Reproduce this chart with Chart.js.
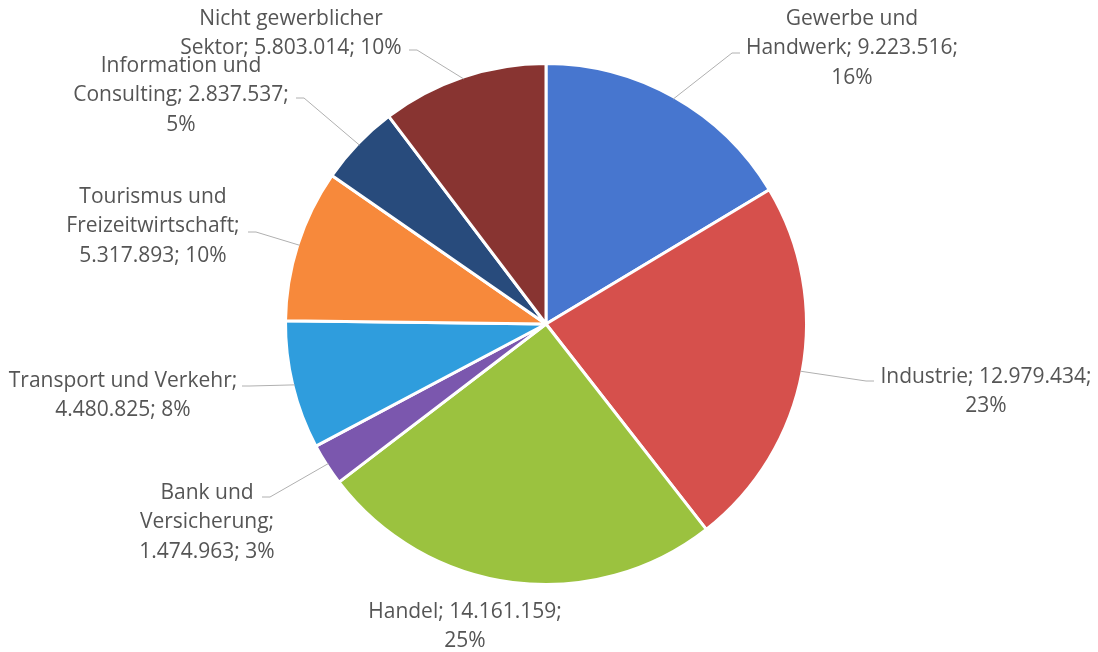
<!DOCTYPE html>
<html>
<head>
<meta charset="utf-8">
<script src="https://cdn.jsdelivr.net/npm/chart.js@4"></script>
<style>
  html, body { margin: 0; padding: 0; background: #fff; }
  #chart { display: block; }
</style>
</head>
<body>
<canvas id="chart" width="1098" height="652"></canvas>
<script>
// data
const categories = [
  'Gewerbe und Handwerk',
  'Industrie',
  'Handel',
  'Bank und Versicherung',
  'Transport und Verkehr',
  'Tourismus und Freizeitwirtschaft',
  'Information und Consulting',
  'Nicht gewerblicher Sektor',
];
const values = [9223516, 12979434, 14161159, 1474963, 4480825, 5317893, 2837537, 5803014];
const percentLabels = ['16%', '23%', '25%', '3%', '8%', '10%', '5%', '10%'];

const colors = ['#4776cf', '#d6504c', '#9bc23f', '#7b57ae', '#2f9ddd', '#f7893b', '#284b7c', '#883431'];

// where each label sits (text centre x, first line y, words per line, leader start)
const labelLayout = [
  { x: 852, y: 19, words: [2, 2, 1], anchor: [740, 53] },
  { x: 986, y: 377, words: [2, 1], anchor: [874, 381] },
  { x: 465, y: 612, words: [2, 1], anchor: null },
  { x: 207, y: 493, words: [2, 1, 2], anchor: [262, 497] },
  { x: 123, y: 381, words: [3, 2], anchor: [242, 386] },
  { x: 153, y: 197, words: [2, 1, 2], anchor: [248, 232] },
  { x: 181, y: 66, words: [2, 2, 1], anchor: [296, 98] },
  { x: 291, y: 19, words: [2, 3], anchor: [409, 50] },
];

const fmt = (v) => v.toString().replace(/\B(?=(\d{3})+(?!\d))/g, '.');

// draws the outside labels with leader lines
const outsideLabels = {
  id: 'outsideLabels',
  afterDatasetsDraw(chart) {
    const ctx = chart.ctx;
    const arcs = chart.getDatasetMeta(0).data;
    ctx.save();
    ctx.font = '21px "Open Sans", sans-serif';
    ctx.fillStyle = '#555555';
    ctx.textAlign = 'center';
    ctx.textBaseline = 'middle';

    arcs.forEach((arc, i) => {
      const lay = labelLayout[i];
      const words = (categories[i] + '; ' + fmt(values[i]) + '; ' + percentLabels[i]).split(' ');
      let k = 0;
      lay.words.forEach((n, li) => {
        const line = words.slice(k, k + n).join(' ');
        k += n;
        ctx.fillText(line, lay.x, lay.y + li * 29.5);
      });

      if (lay.anchor) {
        const p = arc.getProps(['x', 'y', 'startAngle', 'endAngle', 'outerRadius'], true);
        const mid = (p.startAngle + p.endAngle) / 2;
        const ex = p.x + Math.cos(mid) * (p.outerRadius - 2);
        const ey = p.y + Math.sin(mid) * (p.outerRadius - 2);
        const dir = ex > lay.anchor[0] ? 1 : -1;
        ctx.strokeStyle = '#b0b0b0';
        ctx.lineWidth = 1;
        ctx.beginPath();
        ctx.moveTo(lay.anchor[0], lay.anchor[1]);
        ctx.lineTo(lay.anchor[0] + dir * 8, lay.anchor[1]);
        ctx.lineTo(ex, ey);
        ctx.stroke();
      }
    });
    ctx.restore();
  },
};

new Chart(document.getElementById('chart'), {
  type: 'pie',
  data: {
    labels: categories,
    datasets: [
      {
        data: values,
        backgroundColor: colors,
        borderColor: '#ffffff',
        borderWidth: 3,
      },
    ],
  },
  options: {
    responsive: false,
    animation: false,
    layout: {
      padding: { left: 284, right: 290, top: 61, bottom: 65 },
    },
    plugins: {
      legend: { display: false },
      tooltip: { enabled: false },
    },
  },
  plugins: [outsideLabels],
});
</script>
</body>
</html>
